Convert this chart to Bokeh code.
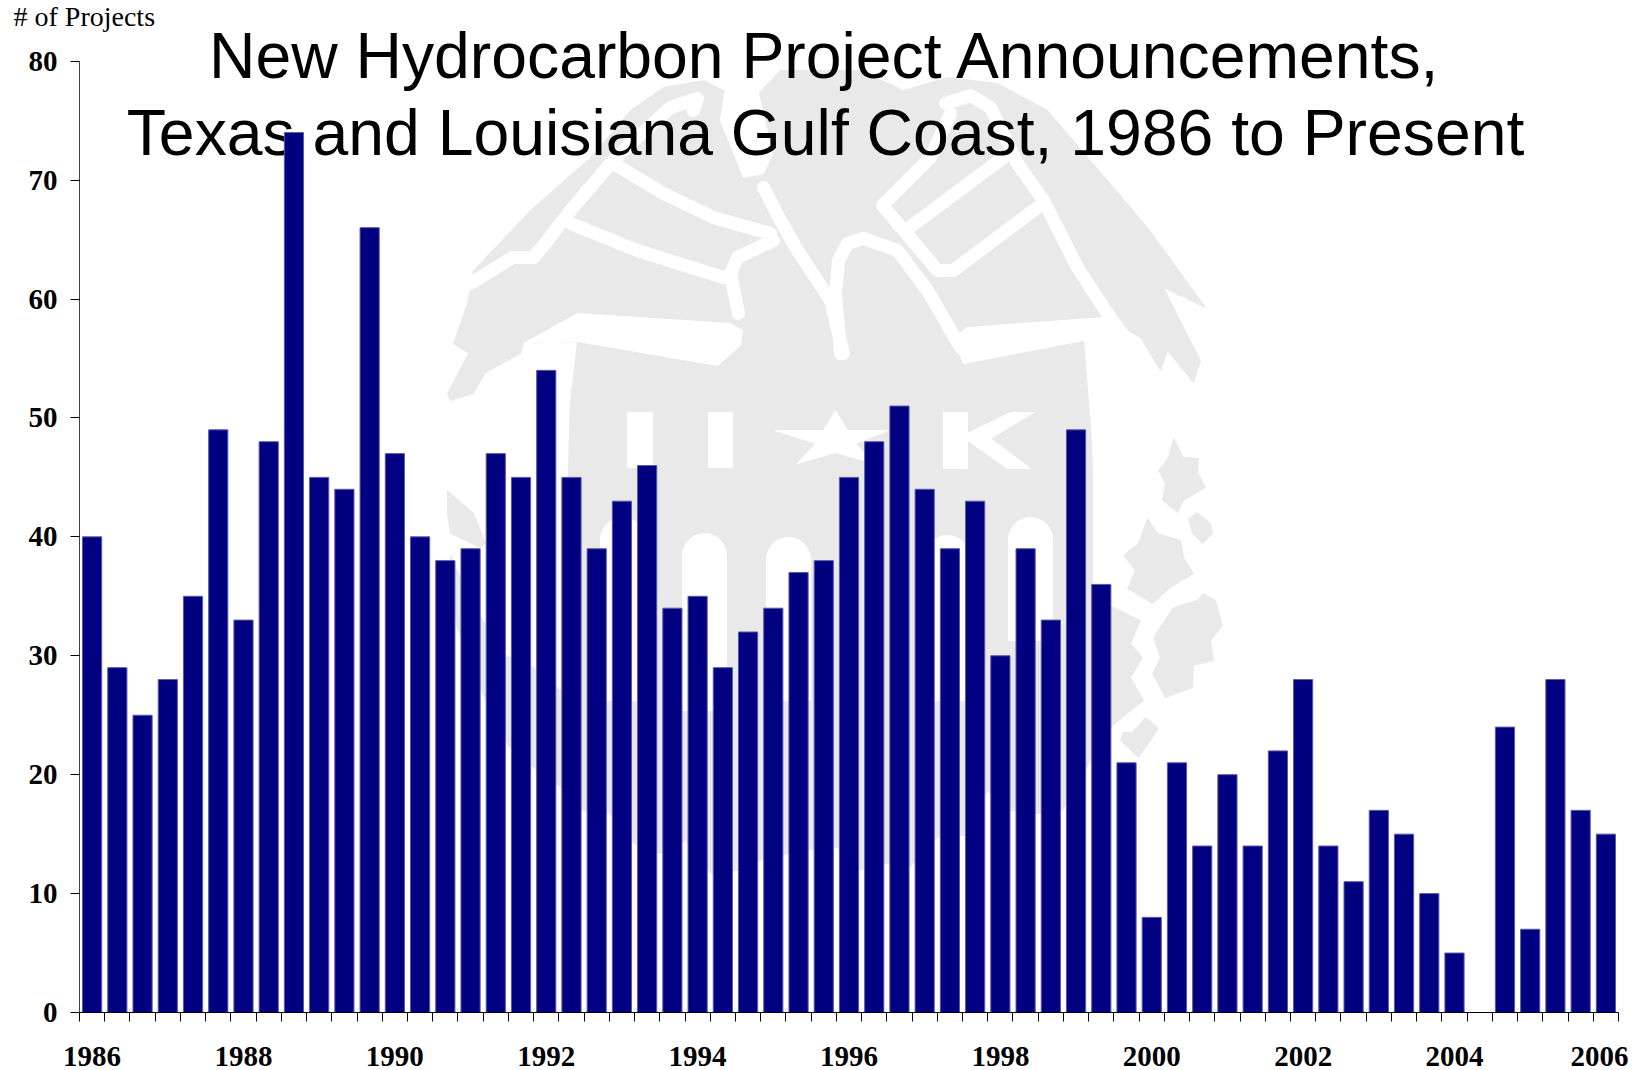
import numpy as np
from bokeh.core.properties import value
from bokeh.embed import file_html
from bokeh.models import FixedTicker, NumeralTickFormatter, Range1d, Title
from bokeh.plotting import figure
from bokeh.resources import INLINE

first_year = 1986
periods_per_year = 3
projects = [40, 29, 25, 28, 35, 49, 33, 48, 74, 45,
            44, 66, 47, 40, 38, 39, 47, 45, 54, 45,
            39, 43, 46, 34, 35, 29, 32, 34, 37, 38,
            45, 48, 51, 44, 39, 43, 30, 39, 33, 49,
            36, 21, 8, 21, 14, 20, 14, 22, 28, 14,
            11, 17, 15, 10, 5, 0, 24, 7, 28, 17, 15]
y_ticks = [0, 10, 20, 30, 40, 50, 60, 70, 80]
x_label_years = list(range(1986, 2007, 2))
title_lines = ["New Hydrocarbon Project Announcements,",
               "Texas and Louisiana Gulf Coast, 1986 to Present"]
y_title = "# of Projects"

# Background seal artwork, traced in page pixels
seal_gray = [
    [(723,90),(703,80),(663,87),(630,110),(590,157),(530,210),(473,270),(467,303),(453,343),(468,353),
     (447,393),(450,400),(473,393),(485,372),(520,353),(523,343),(577,341),(570,400),(568,470),(568,540),
     (572,650),(560,690),(530,665),(505,655),(470,600),(450,555),(456,625),(483,695),(508,745),(533,767),
     (558,785),(583,810),(608,812),(633,843),(660,853),(685,840),(710,873),(737,870),(760,860),(800,850),
     (837,847),(860,870),(885,863),(910,866),(937,837),(965,835),(987,790),(1010,810),(1037,813),(1062,810),
     (1090,760),(1112,725),(1143,700),(1130,677),(1142,657),(1130,643),(1140,620),(1113,607),(1092,600),
     (1092,480),(1091,440),(1083,340),(1103,317),(1140,337),(1160,370),(1167,350),(1193,382),(1200,360),
     (1183,327),(1163,287),(1205,307),(1147,227),(1113,187),(1047,110),(997,83),(947,77),(903,90),(860,70),
     (780,70),(758,93),(723,90)],
    [(447,490),(473,513),(485,543),(480,547),(450,533),(447,513)],
    [(1173,438),(1183,457),(1198,458),(1197,472),(1205,487),(1183,500),(1177,512),(1162,500),(1165,483),(1158,470),(1168,457)],
    [(1197,512),(1210,523),(1212,533),(1202,543),(1192,533),(1188,518)],
    [(1147,518),(1157,533),(1180,540),(1183,557),(1193,573),(1170,587),(1152,603),(1127,588),(1135,570),(1123,555),(1138,543)],
    [(1203,593),(1215,600),(1222,625),(1210,640),(1213,660),(1193,665),(1192,687),(1165,697),(1152,673),(1160,657),(1153,637),(1173,607),(1197,600)],
    [(1145,717),(1158,728),(1138,757),(1120,740),(1123,732),(1132,732)],
]
seal_white = [
    [(725,88),(720,120),(743,177),(763,173),(772,153),(758,93)],
    [(523,343),(577,313),(730,323),(742,330),(740,345),(717,365),(577,341)],
    [(953,337),(967,327),(1103,317),(1120,330),(1083,340),(963,363)],
    [(627,412),(652,412),(652,467),(627,467)],
    [(708,412),(732,412),(732,467),(708,467)],
    [(835,410),(847,430),(887,430),(855,443),(873,463),(835,452),(797,463),(815,443),(775,430),(823,430)],
    [(943,412),(967,412),(967,433),(1010,412),(1033,412),(990,438),(1030,468),(1007,468),(967,440),(967,468),(943,468)],
]
seal_lines = [
    [(470,283),(512,257),(533,257),(547,240),(570,210),(610,163),(637,137),(670,107),(697,98),(693,110)],
    [(570,223),(637,250),(723,277)],
    [(613,163),(663,193),(713,217),(770,233)],
    [(763,187),(780,220),(797,250),(830,300),(843,353)],
    [(773,240),(737,257),(730,273),(738,313)],
    [(945,103),(970,95),(990,107),(1017,163),(1043,200),(1077,267),(1103,307),(1150,373)],
    [(950,113),(930,157),(882,205),(905,232),(937,270),(953,270),(1037,207)],
    [(905,230),(1003,157)],
    [(840,353),(835,293),(838,260),(847,243),(863,238),(897,250),(927,290),(960,347)],
]
seal_arches = [(622, 22, 517, 700), (704, 22, 533, 710), (788, 22, 537, 700),
               (947, 23, 535, 700), (1030, 22, 517, 640)]


def arch_outline(cx, half, top, bottom):
    angles = np.linspace(np.pi, 0, 17)
    return [(cx - half, bottom)] + [(cx + half * np.cos(a), top + half - half * np.sin(a)) for a in angles] + [(cx + half, bottom)]


page_left, page_right, page_top, page_bottom = 79, 1618, 29, 1012
y_max_px = 951.3
y_top = 80 * (page_bottom - page_top) / y_max_px
half = 1 / (2 * periods_per_year)
x_centers = [first_year + i / periods_per_year for i in range(len(projects))]
x_edges = [first_year - half + i / periods_per_year for i in range(len(projects) + 1)]

p = figure(width=1640, height=1070, frame_width=page_right - page_left, frame_height=page_bottom - page_top,
           x_range=Range1d(first_year - half, x_centers[-1] + half), y_range=Range1d(0, y_top),
           output_backend="svg", toolbar_location=None, min_border_left=page_left, min_border_top=page_top,
           min_border_right=10, min_border_bottom=10, outline_line_color=None,
           background_fill_color="white", border_fill_color="white",
           title=Title(text=y_title, align="left", offset=13 - page_left, standoff=-4,
                       text_font="Liberation Serif", text_font_size="28px", text_font_style="normal",
                       text_color="black"))
p.extra_x_ranges = {"px": Range1d(page_left, page_right)}
p.extra_y_ranges = {"px": Range1d(page_bottom, page_top)}
p.grid.visible = False

gray_xs = [[q[0] for q in s] for s in seal_gray]
gray_ys = [[q[1] for q in s] for s in seal_gray]
p.patches(gray_xs, gray_ys, fill_color="#E9E9E9", line_color="#E9E9E9", line_width=1,
          x_range_name="px", y_range_name="px")
white_shapes = seal_white + [arch_outline(*a) for a in seal_arches]
p.patches([[q[0] for q in s] for s in white_shapes], [[q[1] for q in s] for s in white_shapes],
          fill_color="white", line_color="white", line_width=1, x_range_name="px", y_range_name="px")
p.multi_line([[q[0] for q in s] for s in seal_lines], [[q[1] for q in s] for s in seal_lines],
             line_color="white", line_width=13, line_join="round", line_cap="round",
             x_range_name="px", y_range_name="px")

p.text(x=[825, 825], y=[55, 132], text=title_lines, text_font=value("Liberation Sans"), text_font_size="64.3px",
       text_color="black", text_align="center", text_baseline="alphabetic", x_range_name="px", y_range_name="px")

p.vbar(x=x_centers, top=projects, width=0.76 / periods_per_year, bottom=0, fill_color="#000080",
       line_color="#5A5AAA", line_width=1)

ax = p.xaxis[0]
ax.ticker = FixedTicker(ticks=x_label_years, minor_ticks=x_edges)
ax.formatter = NumeralTickFormatter(format="0")
ax.major_tick_line_color = None
ax.major_tick_out = 0
ax.major_tick_in = 0
ax.minor_tick_out = 9
ax.minor_tick_in = 0
ax.minor_tick_line_color = "black"
ax.axis_line_color = "black"
ax.major_label_standoff = 25
ax.major_label_text_font = "Liberation Serif"
ax.major_label_text_font_style = "bold"
ax.major_label_text_font_size = "29px"
ax.major_label_text_color = "black"

ay = p.yaxis[0]
ay.ticker = FixedTicker(ticks=y_ticks)
ay.bounds = (0, 80)
ay.formatter = NumeralTickFormatter(format="0")
ay.major_tick_out = 9
ay.major_tick_in = 0
ay.minor_tick_line_color = None
ay.major_tick_line_color = "black"
ay.axis_line_color = "#404040"
ay.major_label_standoff = 13
ay.major_label_text_font = "Liberation Serif"
ay.major_label_text_font_style = "bold"
ay.major_label_text_font_size = "29px"
ay.major_label_text_color = "black"

open("out.html", "w").write(file_html(p, INLINE))
